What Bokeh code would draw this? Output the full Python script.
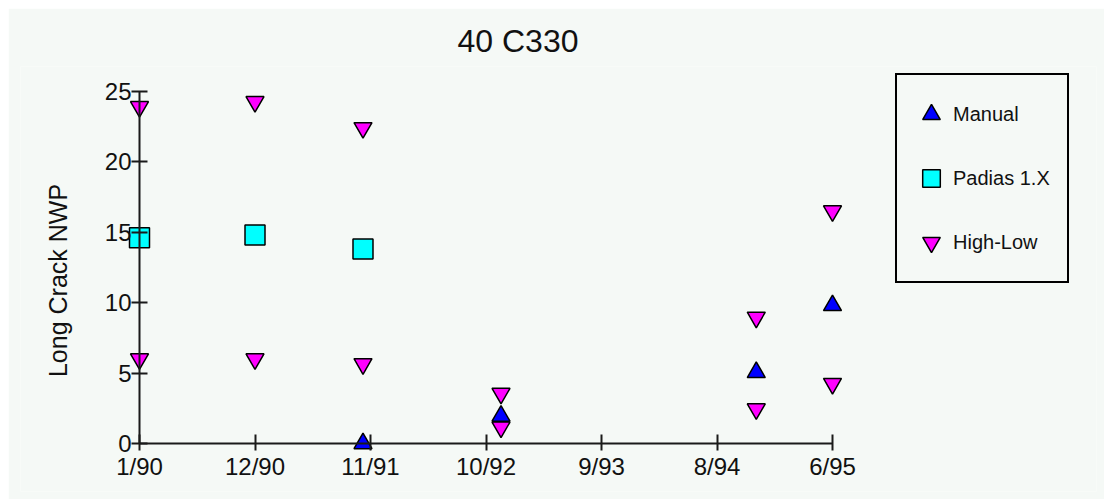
from bokeh.plotting import figure
from bokeh.models import Range1d, FixedTicker, Legend, LegendItem, Label
from bokeh.embed import file_html
from bokeh.resources import INLINE
import math

# ---- data ----
x_ticks = [0, 1, 2, 3, 4, 5, 6]
x_tick_labels = ["1/90", "12/90", "11/91", "10/92", "9/93", "8/94", "6/95"]
y_ticks = [0, 5, 10, 15, 20, 25]

manual_x = [1.935, 3.13, 5.34, 6.0]
manual_y = [0.0, 1.95, 5.05, 9.8]

padias_x = [0.0, 1.0, 1.935]
padias_y = [14.6, 14.8, 13.8]

highlow_x = [0.0, 1.0, 1.935, 0.0, 1.0, 1.935, 3.13, 3.13, 5.34, 5.34, 6.0, 6.0]
highlow_y = [23.9, 24.25, 22.4, 6.0, 6.0, 5.65, 3.55, 1.15, 8.95, 2.45, 16.5, 4.25]

# ---- layout (picture pixels; figure sits 8px in from top-left) ----
BG = "#f5f9f6"
M = 8
W, H = 1096, 491
L, R, T, B = 20, 1096, 66, 491
X0, X6 = 139.0, 832.0
Y0, Y25 = 443.0, 90.7
sx = (X6 - X0) / 6.0
sy = (Y0 - Y25) / 25.0
x_start = (L - X0) / sx
x_end = 6.0 + (R - X6) / sx
y_start = -(B - Y0) / sy
y_end = 25.0 + (Y25 - T) / sy

FONT = "Liberation Sans"

p = figure(width=W, height=H,
           x_range=Range1d(x_start, x_end), y_range=Range1d(y_start, y_end),
           output_backend="svg", toolbar_location=None,
           min_border_left=L - M, min_border_right=M + W - R,
           min_border_top=T - M, min_border_bottom=M + H - B,
           background_fill_color=BG, border_fill_color=BG,
           outline_line_color=None)
p.margin = (M, 0, 0, M)

p.xgrid.visible = False
p.ygrid.visible = False

# title
p.title.text = "40 C330"
p.title.align = "left"
p.title.offset = 457 - L
p.title.text_font = FONT
p.title.text_font_size = "32px"
p.title.text_font_style = "normal"
p.title.text_color = "#111111"
p.title.standoff = 16

AX = "#1a1a1a"
for ax in (p.xaxis, p.yaxis):
    ax.fixed_location = 0
    ax.axis_line_color = AX
    ax.axis_line_width = 2
    ax.major_tick_line_color = AX
    ax.major_tick_line_width = 2
    ax.minor_tick_line_color = None
    ax.major_label_text_font = FONT
    ax.major_label_text_font_size = "24px"
    ax.major_label_text_color = "#111111"

p.xaxis.bounds = (0, 6)
p.xaxis.ticker = FixedTicker(ticks=x_ticks)
p.xaxis.major_label_overrides = {t: s for t, s in zip(x_ticks, x_tick_labels)}
p.xaxis.major_tick_in = 9
p.xaxis.major_tick_out = 7
p.xaxis.major_label_standoff = 2

p.yaxis.bounds = (0, 25)
p.yaxis.ticker = FixedTicker(ticks=y_ticks)
p.yaxis.major_tick_in = 8
p.yaxis.major_tick_out = 8
p.yaxis.major_label_standoff = 0

# y axis label
ylab = Label(x=57 - L, y=B - 280, x_units="screen", y_units="screen",
             text="Long Crack NWP", angle=math.pi / 2,
             text_align="center", text_baseline="middle",
             text_font=FONT, text_font_size="25px", text_color="#111111")
p.add_layout(ylab)

# markers
r_hl = p.scatter(highlow_x, highlow_y, marker="inverted_triangle", size=18,
                 fill_color="#ff00ff", line_color="black", line_width=1.5)
r_pd = p.scatter(padias_x, padias_y, marker="square", size=20,
                 fill_color="#00ffff", line_color="black", line_width=1.5)
r_mn = p.scatter(manual_x, manual_y, marker="triangle", size=18,
                 fill_color="#0000ff", line_color="black", line_width=1.5)

legend = Legend(items=[LegendItem(label="Manual", renderers=[r_mn]),
                       LegendItem(label="Padias 1.X", renderers=[r_pd]),
                       LegendItem(label="High-Low", renderers=[r_hl])],
                location=(895 - L, B - 283),
                orientation="vertical",
                glyph_width=44, glyph_height=54,
                label_standoff=-8, label_width=102, label_height=20,
                spacing=10, padding=12, margin=0,
                border_line_color="black", border_line_width=2,
                border_line_alpha=1.0,
                background_fill_color=BG, background_fill_alpha=1.0,
                label_text_font=FONT, label_text_font_size="20px",
                label_text_color="#111111")
p.add_layout(legend)

open("out.html", "w").write(file_html(p, INLINE))
